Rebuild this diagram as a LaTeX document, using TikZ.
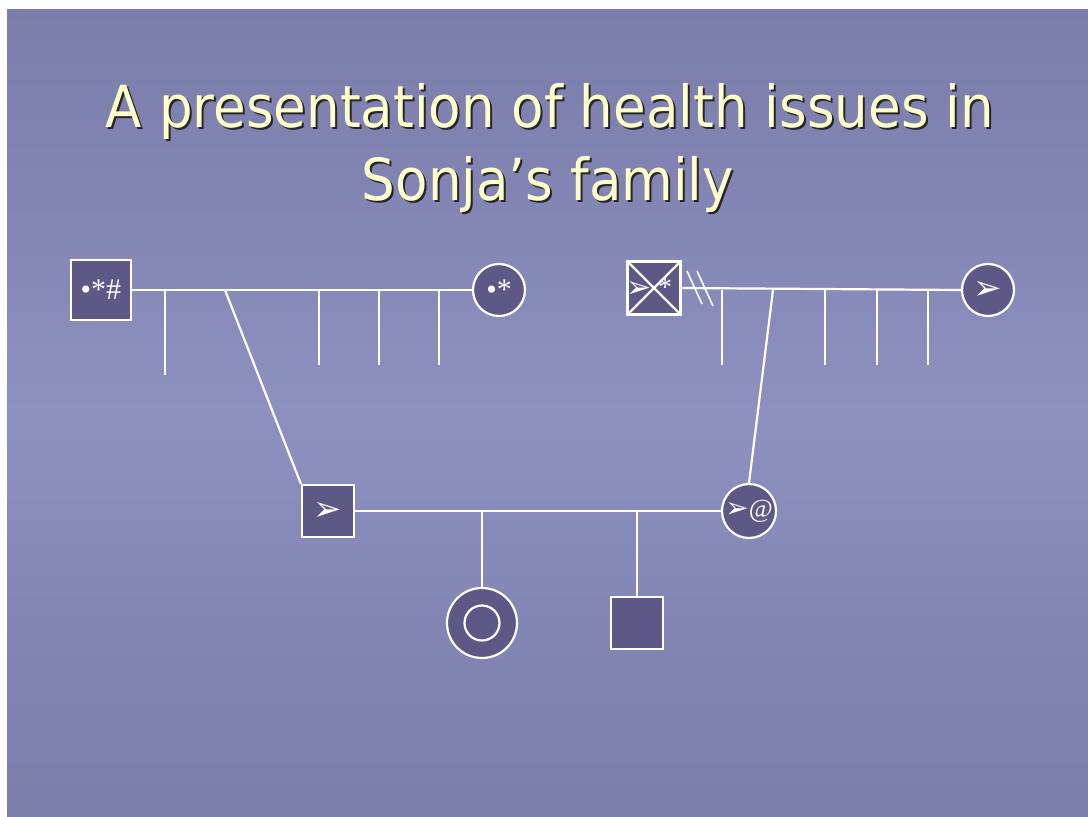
\documentclass[tikz,border=0pt]{standalone}
\usepackage{fontspec}
\setmainfont{Liberation Serif}
\newfontfamily\titlefont{DejaVu Sans}
\newfontfamily\symfont{DejaVu Sans}
\usetikzlibrary{positioning}
\definecolor{slide}{RGB}{122,124,170}
\definecolor{slidelight}{RGB}{141,145,191}
\definecolor{person}{RGB}{94,88,134}
\definecolor{titleyellow}{RGB}{255,255,204}
\tikzset{
  line/.style={white, line width=2.2pt},
  male/.style={rectangle, draw=white, fill=person, line width=2.2pt, minimum size=52pt, inner sep=0pt, text=white, font=\fontsize{30}{30}\selectfont},
  female/.style={circle, draw=white, fill=person, line width=2.2pt, minimum size=52pt, inner sep=0pt, text=white, font=\fontsize{30}{30}\selectfont},
  title/.style={font=\titlefont\fontsize{58}{70}\selectfont, xscale=0.915, transform shape, anchor=base},
  symbtext/.style={text=white, inner sep=0pt},
  arrowhead/.style={font=\symfont\fontsize{34}{34}\selectfont}
}
\begin{document}
\begin{tikzpicture}[x=1pt,y=-1pt]
\useasboundingbox (0,0) rectangle (1088,817);
\fill[white] (0,0) rectangle (1088,817);
\shade[top color=slide, bottom color=slide, middle color=slidelight] (7,9) rectangle (1088,817);

% title
\node[title, text=black!85] at (552,129) {A presentation of health issues in};
\node[title, text=titleyellow] at (550,127) {A presentation of health issues in};
\node[title, text=black!85] at (550,202) {Sonja’s family};
\node[title, text=titleyellow] at (548,200) {Sonja’s family};

% father's side
\node[male, minimum size=60pt] (gfa) at (101,290) {•*\#};
\node[female] (gma) at (499,290) {•*};
\draw[line] (gfa.east) -- (gma.west);
\draw[line] (165,290) -- (165,375);
\foreach \x in {319,379,439}
\draw[line] (\x,290) -- (\x,365);
\node[male, arrowhead] (dad) at (328,511) {➢};
\coordinate (dad up) at (225,290);
\draw[line] (dad up) -- (dad.north west);

% mother's side
\node[male, minimum size=53pt] (gfb) at (654,288) {};
\draw[line] (gfb.north west) -- (gfb.south east) (gfb.south west) -- (gfb.north east);
\node[symbtext, arrowhead, font=\symfont\fontsize{30}{30}\selectfont] at (639,289) {➢};
\node[symbtext, font=\fontsize{28}{28}\selectfont] at (665,287) {*};
\node[female, arrowhead] (gmb) at (988,290) {➢};
\draw[line] (gfb.east) -- (gmb.west);
\draw[line, line width=1.6pt] (687,271) -- (702,304) (697,271) -- (713,306);
\draw[line] (722,290) -- (722,365);
\foreach \x in {825,877,928}
\draw[line] (\x,290) -- (\x,365);
\node[female, minimum size=54pt, font=\fontsize{26}{26}\selectfont] (mum) at (749,511) {{\symfont\fontsize{28}{28}\selectfont ➢}@};
\coordinate (mum up) at (773,290);
\draw[line] (mum up) -- (mum.north);

% parents and children
\draw[line] (dad.east) -- (mum.west);
\coordinate (kid1) at (482,511);
\coordinate (kid2) at (637,511);
\node[female, minimum size=70pt] (sonja) at (482,623) {};
\draw[line] (sonja.center) circle (17.5);
\node[male] (bro) at (637,623) {};
\draw[line] (kid1) -- (sonja.north);
\draw[line] (kid2) -- (bro.north);
\end{tikzpicture}
\end{document}
